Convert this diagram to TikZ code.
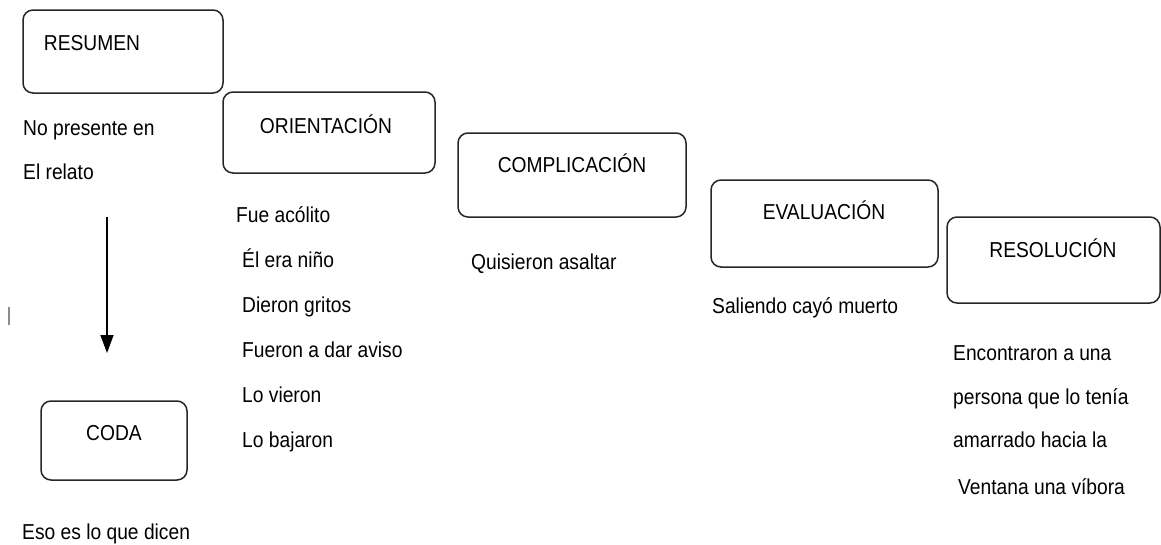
\documentclass[tikz,border=0pt]{standalone}
\usepackage{fontspec}
\setmainfont{Liberation Sans}[FakeStretch=0.89]
\usetikzlibrary{arrows.meta}
\begin{document}
\begin{tikzpicture}[x=1pt,y=-1pt,
  stagebox/.style={draw=black!85, line width=1.5pt, rounded corners=10pt, inner sep=0pt},
  boxlab/.style={anchor=base, inner sep=0pt, text=black, font=\fontsize{21.6}{26}\selectfont},
  txt/.style={anchor=base west, inner sep=0pt, text=black, font=\fontsize{21.6}{26}\selectfont}]
\useasboundingbox (0,0) rectangle (1161,544);
% boxes
\node[stagebox, minimum width=200, minimum height=83] (resumen) at (123,51.5) {};
\node[stagebox, minimum width=212, minimum height=81] (orient) at (329,132.5) {};
\node[stagebox, minimum width=228, minimum height=84] (compl) at (572,175) {};
\node[stagebox, minimum width=227, minimum height=87] (eval) at (824.5,223.5) {};
\node[stagebox, minimum width=213, minimum height=86] (resol) at (1053.5,260) {};
\node[stagebox, minimum width=146, minimum height=79] (coda) at (114,440.5) {};
% box labels
\node[boxlab] (lresumen) at (92,50.5) {RESUMEN};
\node[boxlab] (lorient) at (326,133.5) {ORIENTACIÓN};
\node[boxlab] (lcompl) at (572,172.5) {COMPLICACIÓN};
\node[boxlab] (leval) at (824,219.5) {EVALUACIÓN};
\node[boxlab] (lresol) at (1053,257) {RESOLUCIÓN};
\node[boxlab] (lcoda) at (114,440) {CODA};
% texts
\node[txt] (t1) at (23,135.5) {No presente en};
\node[txt] (t2) at (23,179.5) {El relato};
\node[txt] (o1) at (236,222.5) {Fue acólito};
\node[txt] (o2) at (242,267.5) {Él era niño};
\node[txt] (o3) at (242,312.5) {Dieron gritos};
\node[txt] (o4) at (242,357.5) {Fueron a dar aviso};
\node[txt] (o5) at (242,402.5) {Lo vieron};
\node[txt] (o6) at (242,447.5) {Lo bajaron};
\node[txt] (c1) at (471,269.5) {Quisieron asaltar};
\node[txt] (e1) at (712,313.5) {Saliendo cayó muerto};
\node[txt] (r1) at (953,360.5) {Encontraron a una};
\node[txt] (r2) at (953,404.5) {persona que lo tenía};
\node[txt] (r3) at (953,447.5) {amarrado hacia la};
\node[txt] (r4) at (958,494.5) {Ventana una víbora};
\node[txt] (d1) at (22,539.5) {Eso es lo que dicen};
% arrow
\coordinate (a1) at (107,217);
\coordinate (a2) at (107,353);
\draw[line width=1.4pt, black, -{Triangle[width=13pt,length=18pt]}] (a1) -- (a2);
% small stray mark
\coordinate (m1) at (9,307);
\coordinate (m2) at (9,325);
\draw[line width=2pt, black!45] (m1) -- (m2);
\end{tikzpicture}
\end{document}
